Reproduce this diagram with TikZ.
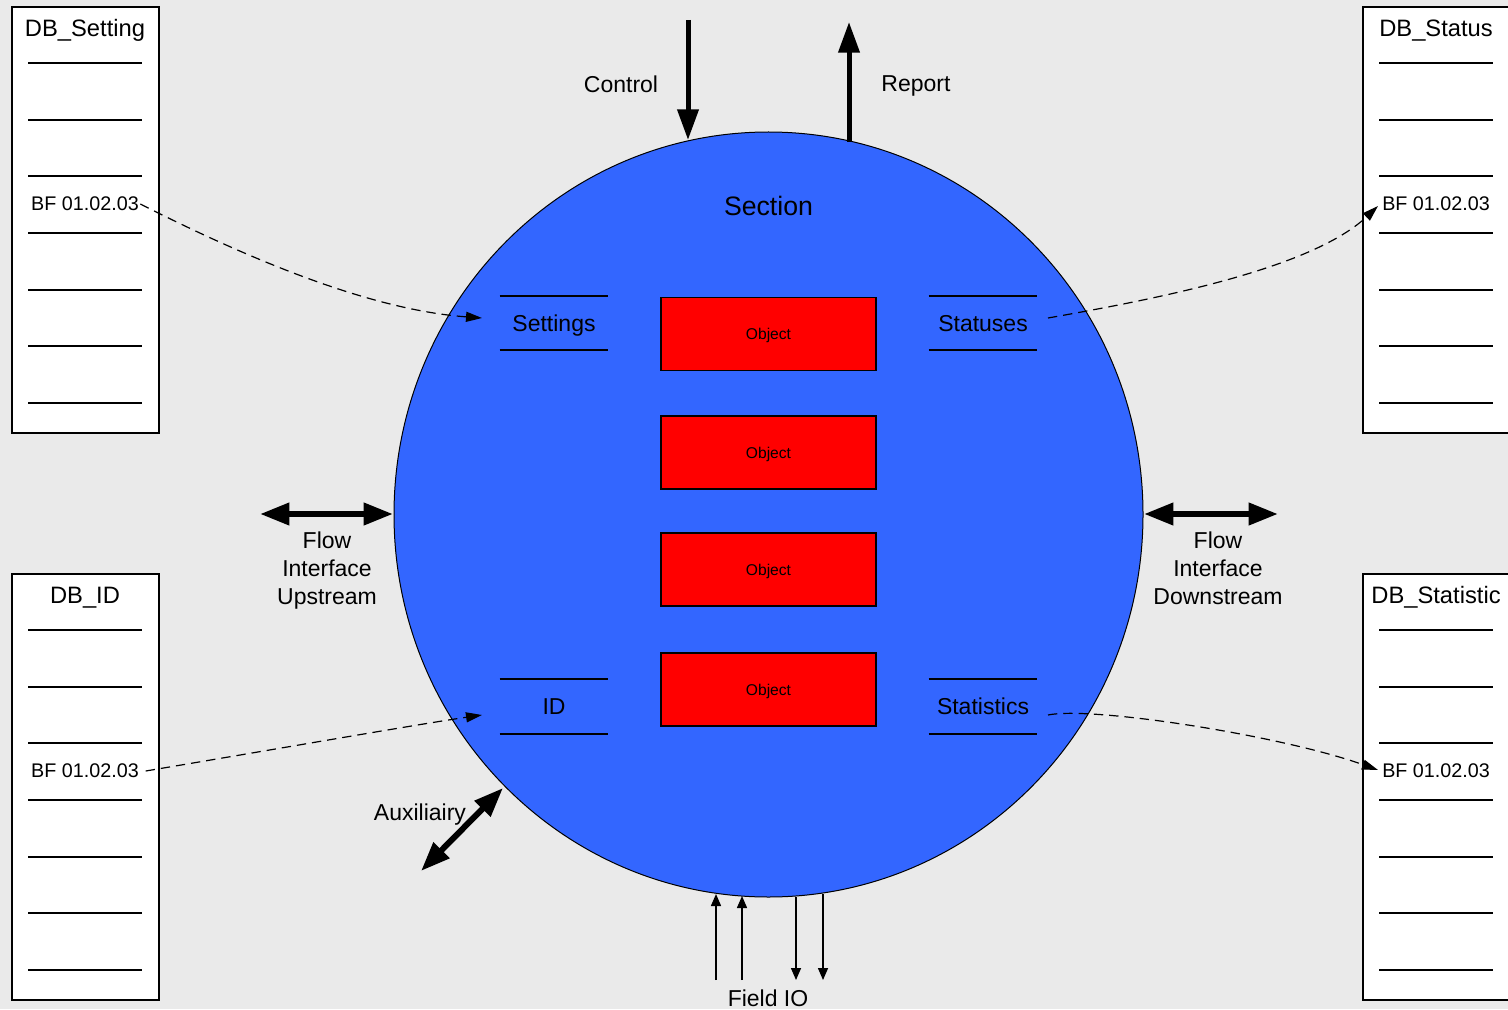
\documentclass[tikz,border=0pt]{standalone}
\usepackage{fontspec}
\setmainfont{Liberation Sans}
\usetikzlibrary{arrows.meta,shapes.geometric}
\definecolor{bg}{HTML}{EAEAEA}
\definecolor{secblue}{HTML}{3366FF}
\definecolor{objred}{HTML}{FF0000}

% one data block: box, title, row lines and the highlighted BF entry
% #1 name, #2 left x, #3 top y, #4 title
\newcommand{\dbtable}[4]{%
  \node[dbbox, anchor=north west] (#1) at (#2,#3) {};
  \node[lbl, font=\fontsize{17.8}{20}\selectfont] (#1-title) at ({#2+74},{#3+22}) {#4};
  \foreach \ry in {57,114,284,340,397}
    \draw[row] ({#2+17},{#3+\ry}) -- ({#2+131},{#3+\ry});
  \foreach \ry in {170,227}
    \draw[rowbold] ({#2+17},{#3+\ry}) -- ({#2+131},{#3+\ry});
  \node[bf] (#1-bf) at ({#2+74},{#3+198}) {BF 01.02.03};
}

\begin{document}
\begin{tikzpicture}[x=0.75pt,y=-0.75pt,
  lbl/.style={font=\fontsize{17.25}{21}\selectfont, inner sep=0, align=center, text depth=0pt},
  bf/.style={font=\fontsize{14.8}{16}\selectfont, inner sep=0},
  dbbox/.style={draw, line width=1.5pt, fill=white, minimum width=110.5pt, minimum height=319.5pt, inner sep=0},
  row/.style={line width=1pt},
  rowbold/.style={line width=1.5pt},
  obj/.style={draw, fill=objred, line width=1.1pt, minimum width=161.25pt, minimum height=54.75pt, inner sep=0, text depth=0pt, font=\fontsize{11.7}{14}\selectfont},
  field/.style={lbl, minimum width=81pt, minimum height=40.5pt},
  fieldline/.style={line width=1.5pt},
  bigarrow/.style={line width=3.75pt, -{Triangle[length=23pt,width=15.5pt]}},
  flowarrow/.style={line width=4.5pt, {Triangle[length=22pt,width=16pt]}-{Triangle[length=22pt,width=16pt]}},
  ioarrow/.style={line width=1.1pt, -{Triangle[length=9pt,width=7.5pt]}},
  dashlink/.style={line width=0.9pt, dash pattern=on 7pt off 4.5pt, -{Triangle[length=12pt,width=7.5pt]}}
]
\path[use as bounding box, fill=bg] (0,0) rectangle (1508,1009);

% data blocks at the four corners
\dbtable{dbset}{11}{6}{DB\_Setting}
\dbtable{dbid}{11}{573}{DB\_ID}
\dbtable{dbsts}{1362}{6}{DB\_Status}
\dbtable{dbstat}{1362}{573}{DB\_Statistic}

% the section
\node[ellipse, draw, fill=secblue, line width=0.75pt, minimum width=561.75pt, minimum height=573.75pt, inner sep=0] (sec) at (768.5,514.5) {};
\node[lbl, font=\fontsize{20}{24}\selectfont] (sectitle) at (768.5,206) {Section};

% objects
\node[obj] (obj1) at (768.5,334) {Object};
\node[obj] (obj2) at (768.5,452.5) {Object};
\node[obj] (obj3) at (768.5,569.5) {Object};
\node[obj] (obj4) at (768.5,689.5) {Object};

% interface fields
\node[field] (set) at (554,323) {Settings};
\node[field] (sts) at (983,323) {Statuses};
\node[field] (ident) at (554,706.5) {ID};
\node[field] (stat) at (983,706.5) {Statistics};
\foreach \f in {set,sts,ident,stat}
  \draw[fieldline] (\f.north west) -- (\f.north east) (\f.south west) -- (\f.south east);

% links between fields and data blocks
\coordinate (setin) at (482,318);
\coordinate (identin) at (482,715);
\coordinate (stsout) at (1048,318);
\coordinate (statout) at (1048,715);
\coordinate (dbsts-in) at (1378,206);
\coordinate (dbstat-in) at (1378,770);
\draw[dashlink] ([xshift=1pt]dbset-bf.east) .. controls (300,285) and (400,312) .. (setin);
\draw[dashlink] ([xshift=5pt]dbid-bf.east) .. controls (300,745) and (420,724) .. (identin);
\draw[dashlink] (stsout) .. controls (1150,300) and (1310,270) .. (dbsts-in);
\draw[dashlink] (statout) .. controls (1090,706) and (1280,735) .. (dbstat-in);

% control and report
\coordinate (ctl-src) at (688,20);
\coordinate (ctl-dst) at (688,140);
\coordinate (rep-src) at (849,142);
\coordinate (rep-dst) at (849,22);
\draw[bigarrow] (ctl-src) -- (ctl-dst);
\draw[bigarrow] (rep-src) -- (rep-dst);
\node[lbl] (ctl-lbl) at (621,84) {Control};
\node[lbl] (rep-lbl) at (916,84) {Report};

% flow interfaces
\coordinate (up-a) at (260,514);
\coordinate (up-b) at (393,514);
\coordinate (dn-a) at (1144,514);
\coordinate (dn-b) at (1278,514);
\draw[flowarrow] (up-a) -- (up-b);
\draw[flowarrow] (dn-a) -- (dn-b);
\node[lbl] (up-lbl) at (327,568) {Flow\\Interface\\Upstream};
\node[lbl] (dn-lbl) at (1218,568) {Flow\\Interface\\Downstream};

% auxiliary
\coordinate (aux-a) at (503,788);
\coordinate (aux-b) at (421,871);
\draw[flowarrow] (aux-a) -- (aux-b);
\node[lbl] (aux-lbl) at (420,812) {Auxiliairy};

% field IO
\coordinate (in1-src) at (716,980);
\coordinate (in1-dst) at (716,894);
\coordinate (in2-src) at (742,980);
\coordinate (in2-dst) at (742,896);
\coordinate (out1-src) at (796,897);
\coordinate (out1-dst) at (796,980);
\coordinate (out2-src) at (823,894);
\coordinate (out2-dst) at (823,980);
\draw[ioarrow] (in1-src) -- (in1-dst);
\draw[ioarrow] (in2-src) -- (in2-dst);
\draw[ioarrow] (out1-src) -- (out1-dst);
\draw[ioarrow] (out2-src) -- (out2-dst);
\node[lbl] (io-lbl) at (768,998) {Field IO};
\end{tikzpicture}
\end{document}
